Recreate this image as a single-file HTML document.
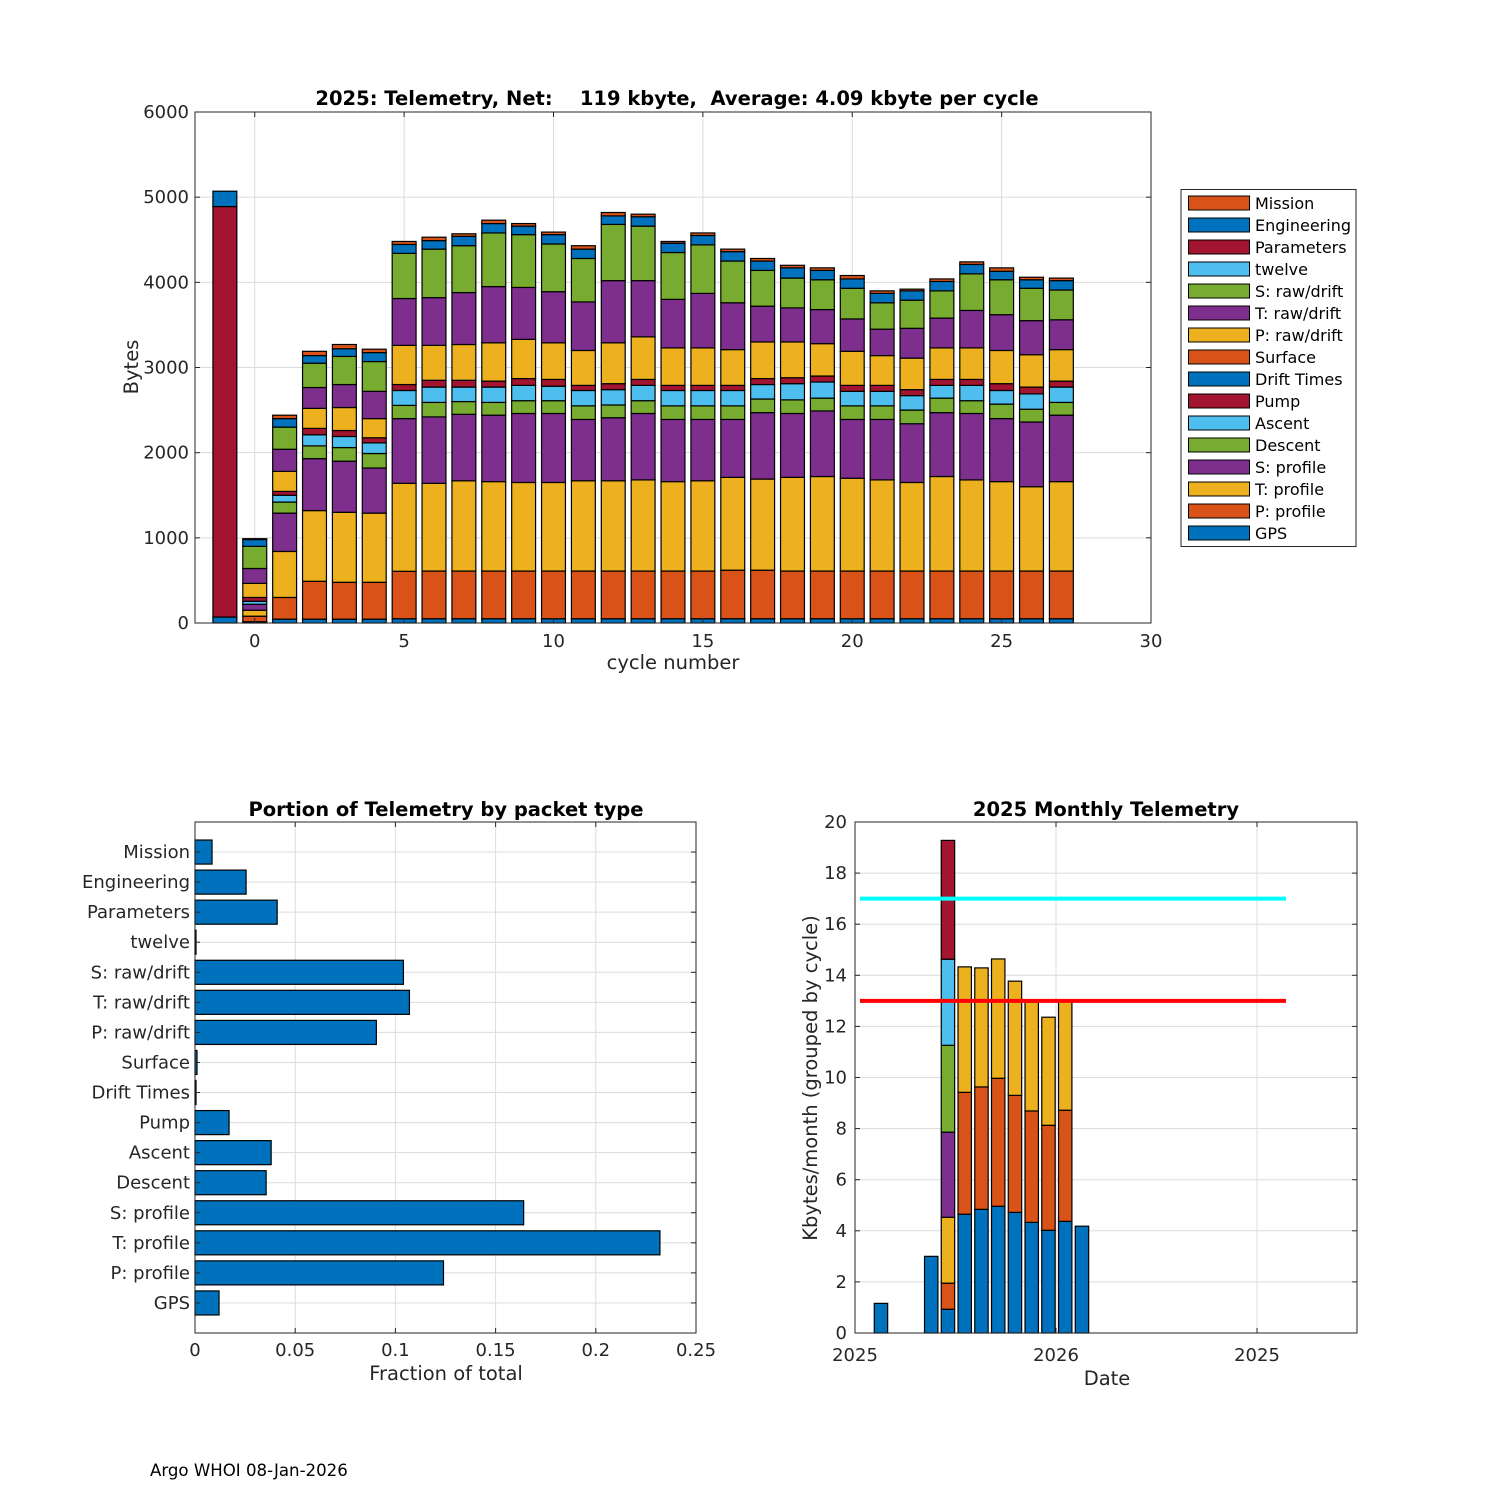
<!DOCTYPE html>
<html><head><meta charset="utf-8">
<style>
body{margin:0;background:#fff;}
svg{display:block;font-family:"DejaVu Sans","Liberation Sans",sans-serif;}
.pre{white-space:pre;}
</style></head>
<body>
<svg id="root" width="1500" height="1500" viewBox="0 0 1500 1500" xmlns="http://www.w3.org/2000/svg">
<rect x="0" y="0" width="1500" height="1500" fill="#fff"/>
<g id="top"></g><g id="bl"></g><g id="br"></g>
<text x="150" y="1476" font-size="16.6" fill="#000">Argo WHOI 08-Jan-2026</text>
</svg>
<script>
// ---------- Top chart data ----------
const cycles = [-1,0,1,2,3,4,5,6,7,8,9,10,11,12,13,14,15,16,17,18,19,20,21,22,23,24,25,26,27];
const seriesNames = ["GPS","P: profile","T: profile","S: profile","Descent","Ascent","Pump","Drift Times","Surface","P: raw/drift","T: raw/drift","S: raw/drift","twelve","Parameters","Engineering","Mission"];
const gpsVals   = [70,15,45,45,45,45,50,50,50,50,50,50,50,50,50,50,50,50,50,50,50,50,50,50,50,50,50,50,50];
const pprofVals = [0,65,255,445,433,433,557,560,560,560,560,560,560,560,560,560,560,570,570,560,560,560,560,560,560,560,560,560,560];
const tprofVals = [0,70,540,830,822,812,1033,1030,1060,1050,1040,1040,1060,1060,1070,1050,1060,1090,1070,1100,1110,1090,1070,1040,1110,1070,1050,990,1050];
const sprofVals = [0,70,450,610,600,530,760,780,780,780,810,810,720,740,780,730,720,680,780,750,770,690,710,690,750,780,740,760,780];
const descVals  = [0,0,130,150,160,170,155,170,150,150,150,150,160,150,150,160,160,160,160,160,150,160,160,160,170,150,170,150,150];
const ascVals   = [0,35,80,130,130,125,175,180,170,180,180,170,180,180,180,180,180,180,170,190,190,170,170,170,150,180,160,180,180];
const pumpVals  = [0,45,45,75,70,60,70,80,80,70,80,80,60,70,70,60,60,60,70,70,70,70,70,70,70,70,80,80,70];
const driftVals = [0,0,0,0,0,0,0,0,0,0,0,0,0,0,0,0,0,0,0,0,0,0,0,0,0,0,0,0,0];
const surfVals  = [0,0,0,0,0,0,0,0,0,0,0,0,0,0,0,0,0,0,0,0,0,0,0,0,0,0,0,0,0];
const prawVals  = [0,165,235,235,270,225,460,410,420,450,460,430,410,480,500,440,440,420,430,420,380,400,350,370,370,370,390,380,370];
const trawVals  = [0,175,260,245,270,320,550,560,610,660,610,600,570,730,660,570,640,550,420,400,400,380,310,350,350,440,420,400,350];
const srawVals  = [0,260,260,285,330,350,530,570,550,630,620,560,510,660,640,550,570,490,420,350,350,360,310,330,320,430,410,380,350];
const twelveVals= [0,0,0,0,0,0,0,0,0,0,0,0,0,0,0,0,0,0,0,0,0,0,0,0,0,0,0,0,0];
const paramVals = [4820,0,0,0,0,0,0,0,0,0,0,0,0,0,0,0,0,0,0,0,0,0,0,0,0,0,0,0,0];
const engVals   = [180,80,100,90,90,105,105,100,110,110,100,110,110,100,110,110,110,110,110,120,110,110,110,110,110,110,100,100,110];
const missVals  = [0,10,40,50,50,40,35,40,30,40,30,30,40,40,30,20,30,30,30,30,30,40,30,20,30,30,40,30,30];
const topXTicks = [0,5,10,15,20,25,30];
const topYTicks = [0,1000,2000,3000,4000,5000,6000];

// ---------- Bottom-left data ----------
const packetTypes = ["GPS","P: profile","T: profile","S: profile","Descent","Ascent","Pump","Drift Times","Surface","P: raw/drift","T: raw/drift","S: raw/drift","twelve","Parameters","Engineering","Mission"];
const packetFractions = [0.012,0.124,0.232,0.164,0.0355,0.038,0.017,0.0005,0.001,0.0905,0.107,0.104,0.0005,0.041,0.0255,0.0085];
const blXTicks = [0,0.05,0.1,0.15,0.2,0.25];
const blXTickLabels = ["0","0.05","0.1","0.15","0.2","0.25"];

// ---------- Bottom-right data ----------
const monthIdx = [1,4,5,6,7,8,9,10,11,12,13];
const m1 = [1.16,3.0,0.93,4.65,4.84,4.96,4.72,4.33,4.02,4.37,4.18];
const m2 = [0,0,1.02,4.77,4.79,5.01,4.58,4.36,4.11,4.35,0];
const m3 = [0,0,2.58,4.91,4.66,4.67,4.47,4.26,4.23,4.26,0];
const m4 = [0,0,3.33,0,0,0,0,0,0,0,0];
const m5 = [0,0,3.40,0,0,0,0,0,0,0,0];
const m6 = [0,0,3.37,0,0,0,0,0,0,0,0];
const m7 = [0,0,4.65,0,0,0,0,0,0,0,0];
const brYTicks = [0,2,4,6,8,10,12,14,16,18,20];
const brXTickMonths = [0,12,24];
const brXTickLabels = ["2025","2026","2025"];
const limitLines = [13,17];

const NS="http://www.w3.org/2000/svg";
const colors = {"GPS":"#0072BD","P: profile":"#D95319","T: profile":"#EDB120","S: profile":"#7E2F8E","Descent":"#77AC30","Ascent":"#4DBEEE","Pump":"#A2142F","Drift Times":"#0072BD","Surface":"#D95319","P: raw/drift":"#EDB120","T: raw/drift":"#7E2F8E","S: raw/drift":"#77AC30","twelve":"#4DBEEE","Parameters":"#A2142F","Engineering":"#0072BD","Mission":"#D95319"};
const monthColors = ["#0072BD","#D95319","#EDB120","#7E2F8E","#77AC30","#4DBEEE","#A2142F"];
const TICK=18, LAB=19.5;
function el(tag,attrs,parent,txt){const e=document.createElementNS(NS,tag);for(const k in attrs)e.setAttribute(k,attrs[k]);if(txt!==undefined)e.textContent=txt;parent.appendChild(e);return e;}

function axesFrame(g,L,T,R,B,prefix){
  const f=el('rect',{x:L,y:T,width:R-L,height:B-T,fill:'none',stroke:'#262626','stroke-width':1},g);
  
  
}

// ===== TOP =====
(function(){
  const g=document.getElementById('top');
  const L=195,R=1151,T=112,B=623;
  const xs=v=>L+(v+2)/32*(R-L);
  const ys=v=>B-v/6000*(B-T);
  el('rect',{x:L,y:T,width:R-L,height:B-T,fill:'#fff'},g);
  topXTicks.forEach(t=>{const l=el('line',{x1:xs(t),x2:xs(t),y1:T,y2:B,stroke:'#dcdcdc'},g);});
  topYTicks.forEach(t=>{const l=el('line',{x1:L,x2:R,y1:ys(t),y2:ys(t),stroke:'#dcdcdc'},g);});
  const all=[gpsVals,pprofVals,tprofVals,sprofVals,descVals,ascVals,pumpVals,driftVals,surfVals,prawVals,trawVals,srawVals,twelveVals,paramVals,engVals,missVals];
  cycles.forEach((c,i)=>{
    let cum=0;
    all.forEach((arr,s)=>{
      const v=arr[i]; if(v<=0) return;
      const r=el('rect',{x:xs(c-0.4),y:ys(cum+v),width:xs(c+0.4)-xs(c-0.4),height:ys(cum)-ys(cum+v),fill:colors[seriesNames[s]],stroke:'#000','stroke-width':1.2},g);
      
      
      cum+=v;
    });
  });
  axesFrame(g,L,T,R,B,'top');
  topXTicks.forEach(t=>{
    el('line',{x1:xs(t),x2:xs(t),y1:B,y2:B-5,stroke:'#262626'},g);el('line',{x1:xs(t),x2:xs(t),y1:T,y2:T+5,stroke:'#262626'},g);
    const tx=el('text',{x:xs(t),y:B+24,'text-anchor':'middle','font-size':TICK,fill:'#262626'},g,String(t));
    
  });
  topYTicks.forEach(t=>{
    el('line',{x1:L,x2:L+5,y1:ys(t),y2:ys(t),stroke:'#262626'},g);el('line',{x1:R,x2:R-5,y1:ys(t),y2:ys(t),stroke:'#262626'},g);
    const tx=el('text',{x:L-6,y:ys(t)+6,'text-anchor':'end','font-size':TICK,fill:'#262626'},g,String(t));
    
  });
  let t1=el('text',{x:677,y:105,'text-anchor':'middle','font-size':LAB,'font-weight':'bold',fill:'#000','class':'pre'},g,'2025: Telemetry, Net:    119 kbyte,  Average: 4.09 kbyte per cycle');
  
  let t2=el('text',{x:673,y:669,'text-anchor':'middle','font-size':LAB,fill:'#262626'},g,'cycle number');
  
  let t3=el('text',{x:138,y:367,'text-anchor':'middle','font-size':LAB,fill:'#262626',transform:'rotate(-90 138 367)'},g,'Bytes');
  
  // legend
  const lg=el('g',{},g);
  
  el('rect',{x:1181,y:189.5,width:175,height:357,fill:'#fff',stroke:'#262626','stroke-width':1},lg);
  const order=seriesNames.slice().reverse();
  order.forEach((n,k)=>{
    const y=203+k*22;
    const e=el('g',{},lg);
    
    
    el('rect',{x:1188.5,y:y-7,width:61,height:14,fill:colors[n],stroke:'#000','stroke-width':1},e);
    el('text',{x:1255,y:y+6,'font-size':16,fill:'#000'},e,n);
  });
})();

// ===== BOTTOM LEFT =====
(function(){
  const g=document.getElementById('bl');
  const L=195,R=696,T=822,B=1333;
  const xs=v=>L+v/0.25*(R-L);
  const ys=v=>B-v/17*(B-T);
  blXTicks.forEach(t=>{const l=el('line',{x1:xs(t),x2:xs(t),y1:T,y2:B,stroke:'#dcdcdc'},g);});
  packetTypes.forEach((p,i)=>{const l=el('line',{x1:L,x2:R,y1:ys(i+1),y2:ys(i+1),stroke:'#dcdcdc'},g);});
  packetTypes.forEach((p,i)=>{
    const v=packetFractions[i];
    const r=el('rect',{x:xs(0),y:ys(i+1.4),width:xs(v)-xs(0),height:ys(i+0.6)-ys(i+1.4),fill:'#0072BD',stroke:'#000','stroke-width':1.2},g);
    
    
    el('line',{x1:L,x2:L+5,y1:ys(i+1),y2:ys(i+1),stroke:'#262626'},g);el('line',{x1:R,x2:R-5,y1:ys(i+1),y2:ys(i+1),stroke:'#262626'},g);
    const tx=el('text',{x:L-5,y:ys(i+1)+6,'text-anchor':'end','font-size':TICK,fill:'#262626'},g,p);
    
  });
  axesFrame(g,L,T,R,B,'bl');
  blXTicks.forEach((t,k)=>{
    el('line',{x1:xs(t),x2:xs(t),y1:B,y2:B-5,stroke:'#262626'},g);el('line',{x1:xs(t),x2:xs(t),y1:T,y2:T+5,stroke:'#262626'},g);
    const tx=el('text',{x:xs(t),y:B+23,'text-anchor':'middle','font-size':TICK,fill:'#262626'},g,blXTickLabels[k]);
    
  });
  let t1=el('text',{x:446,y:816,'text-anchor':'middle','font-size':LAB,'font-weight':'bold',fill:'#000'},g,'Portion of Telemetry by packet type');
  
  let t2=el('text',{x:446,y:1380,'text-anchor':'middle','font-size':LAB,fill:'#262626'},g,'Fraction of total');
  
})();

// ===== BOTTOM RIGHT =====
(function(){
  const g=document.getElementById('br');
  const L=855,R=1357,T=822,B=1333;
  const xs=m=>L+m*16.75;
  const ys=v=>B-v/20*(B-T);
  brXTickMonths.forEach(t=>{const l=el('line',{x1:xs(t),x2:xs(t),y1:T,y2:B,stroke:'#dcdcdc'},g);});
  brYTicks.forEach(t=>{const l=el('line',{x1:L,x2:R,y1:ys(t),y2:ys(t),stroke:'#dcdcdc'},g);});
  const ms=[m1,m2,m3,m4,m5,m6,m7];
  monthIdx.forEach((m,i)=>{
    let cum=0;
    ms.forEach((arr,s)=>{
      const v=arr[i]; if(v<=0) return;
      const c=m+0.55;
      const r=el('rect',{x:xs(c-0.4),y:ys(cum+v),width:xs(c+0.4)-xs(c-0.4),height:ys(cum)-ys(cum+v),fill:monthColors[s],stroke:'#000','stroke-width':1.2},g);
      
      
      cum+=v;
    });
  });
  const lc=['#FF0000','#00FFFF'];
  limitLines.forEach((v,k)=>{
    const l=el('line',{x1:860,x2:1286,y1:ys(v),y2:ys(v),stroke:lc[k],'stroke-width':4},g);
    
    
  });
  axesFrame(g,L,T,R,B,'br');
  brYTicks.forEach(t=>{
    el('line',{x1:L,x2:L+5,y1:ys(t),y2:ys(t),stroke:'#262626'},g);el('line',{x1:R,x2:R-5,y1:ys(t),y2:ys(t),stroke:'#262626'},g);
    const tx=el('text',{x:L-8,y:ys(t)+6,'text-anchor':'end','font-size':TICK,fill:'#262626'},g,String(t));
    
  });
  brXTickMonths.forEach((t,k)=>{
    el('line',{x1:xs(t),x2:xs(t),y1:B,y2:B-5,stroke:'#262626'},g);el('line',{x1:xs(t),x2:xs(t),y1:T,y2:T+5,stroke:'#262626'},g);
    const tx=el('text',{x:xs(t),y:B+28,'text-anchor':'middle','font-size':TICK,fill:'#262626'},g,brXTickLabels[k]);
    
  });
  let t1=el('text',{x:1106,y:816,'text-anchor':'middle','font-size':LAB,'font-weight':'bold',fill:'#000'},g,'2025 Monthly Telemetry');
  
  let t2=el('text',{x:1107,y:1385,'text-anchor':'middle','font-size':LAB,fill:'#262626'},g,'Date');
  
  let t3=el('text',{x:817,y:1078,'text-anchor':'middle','font-size':LAB,fill:'#262626',transform:'rotate(-90 817 1078)'},g,'Kbytes/month (grouped by cycle)');
  
})();
</script>
</body></html>
